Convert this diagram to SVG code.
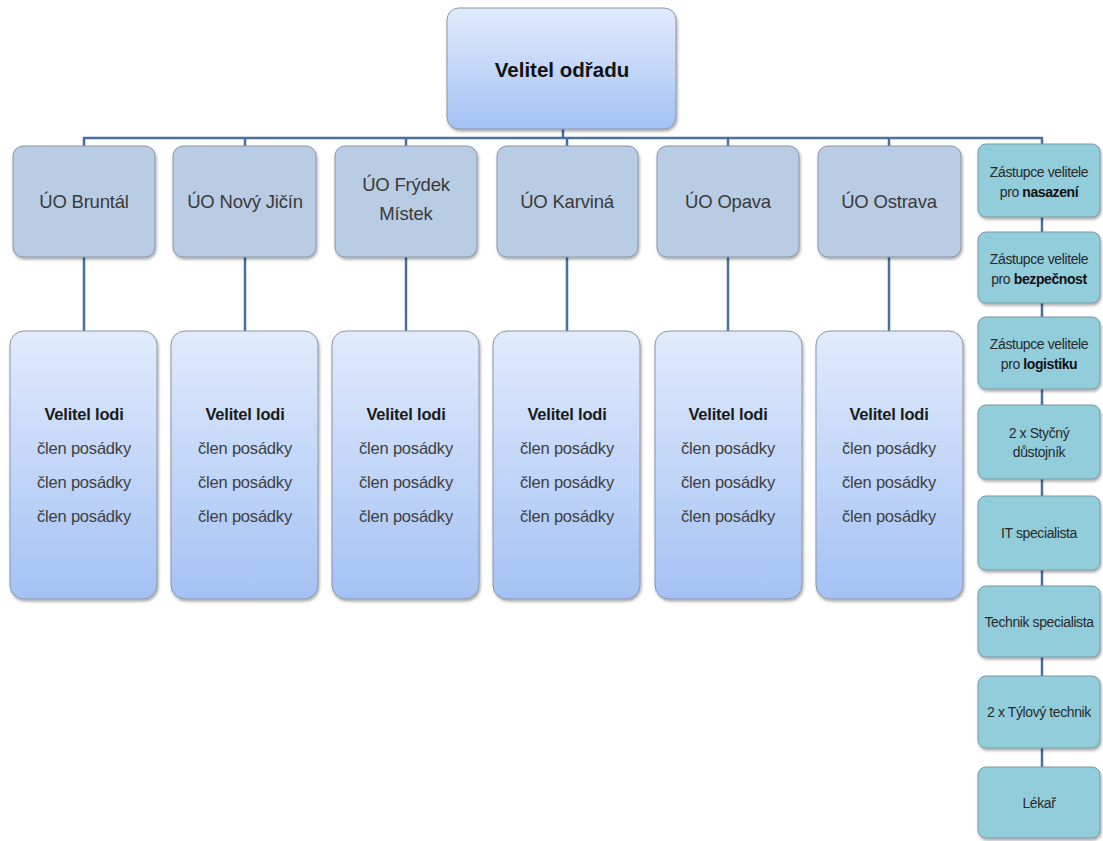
<svg xmlns="http://www.w3.org/2000/svg" width="1103" height="841" viewBox="0 0 1103 841">
<defs>
<linearGradient id="gBlue" x1="0" y1="0" x2="0" y2="1">
<stop offset="0" stop-color="#e1ebfc"/>
<stop offset="1" stop-color="#a4c2f4"/>
</linearGradient>
<filter id="sh" x="-10%" y="-10%" width="125%" height="125%">
<feDropShadow dx="1" dy="2" stdDeviation="1.5" flood-color="#000" flood-opacity="0.35"/>
</filter>
<style>
.top{fill:url(#gBlue);stroke:#8a96a8;stroke-width:1;filter:url(#sh)}
.unit{fill:#b8cce4;stroke:#8a96a8;stroke-width:1;filter:url(#sh)}
.crew{fill:url(#gBlue);stroke:#8a96a8;stroke-width:1;filter:url(#sh)}
.staff{fill:#92cddc;stroke:#7a9aa4;stroke-width:1;filter:url(#sh)}
.conn{stroke:#4a6fa0;stroke-width:2.5;fill:none}
text{font-family:"Liberation Sans",Arial,sans-serif;text-anchor:middle}
.tt{font-size:20.5px;font-weight:bold;fill:#111}
.ut{font-size:18.5px;fill:#3a3a3a;letter-spacing:-0.2px}
.cb{font-size:16.5px;font-weight:bold;fill:#1a1a1a;letter-spacing:-0.2px}
.cm{font-size:16.5px;fill:#404040;letter-spacing:-0.2px}
.st{font-size:14px;fill:#2a2a2a;letter-spacing:-0.4px}
.st .b{font-weight:bold;fill:#111}
</style>
</defs>
<rect width="1103" height="841" fill="#fff"/>
<g id="connectors">
<path class="conn" d="M563 129 V138"/>
<path class="conn" d="M84 146 V138 H1042 V144"/>
<path class="conn" d="M245 138 V146 M406 138 V146 M567 138 V146 M728 138 V146 M889 138 V146"/>
<path class="conn" d="M84 257 V331 M245 257 V331 M406 257 V331 M567 257 V331 M728 257 V331 M889 257 V331"/>
<path class="conn" d="M1042 217 V232 M1042 303 V317 M1042 389 V405 M1042 479 V496 M1042 570 V586 M1042 657 V676 M1042 748 V767"/>
</g>
<g id="velitel-odradu"><rect class="top" x="447" y="8" width="229" height="121" rx="12"/><text class="tt" x="562" y="77">Velitel odřadu</text></g>

<g id="uo-bruntal"><rect class="unit" x="13" y="146" width="142" height="111" rx="10"/><text class="ut" x="84" y="208">ÚO Bruntál</text></g>
<g id="uo-novy-jicin"><rect class="unit" x="173" y="146" width="143" height="111" rx="10"/><text class="ut" x="245" y="208">ÚO Nový Jičín</text></g>
<g id="uo-frydek-mistek"><rect class="unit" x="335" y="146" width="142" height="111" rx="10"/><text class="ut" x="406" y="191">ÚO Frýdek</text><text class="ut" x="406" y="220">Místek</text></g>
<g id="uo-karvina"><rect class="unit" x="497" y="146" width="141" height="111" rx="10"/><text class="ut" x="567" y="208">ÚO Karviná</text></g>
<g id="uo-opava"><rect class="unit" x="657" y="146" width="142" height="111" rx="10"/><text class="ut" x="728" y="208">ÚO Opava</text></g>
<g id="uo-ostrava"><rect class="unit" x="818" y="146" width="143" height="111" rx="10"/><text class="ut" x="889" y="208">ÚO Ostrava</text></g>

<g id="crew-1"><rect class="crew" x="10" y="331" width="147" height="268" rx="14"/><text class="cb" x="84" y="420">Velitel lodi</text><text class="cm" x="84" y="454">člen posádky</text><text class="cm" x="84" y="488">člen posádky</text><text class="cm" x="84" y="522">člen posádky</text></g>
<g id="crew-2"><rect class="crew" x="171" y="331" width="147" height="268" rx="14"/><text class="cb" x="245" y="420">Velitel lodi</text><text class="cm" x="245" y="454">člen posádky</text><text class="cm" x="245" y="488">člen posádky</text><text class="cm" x="245" y="522">člen posádky</text></g>
<g id="crew-3"><rect class="crew" x="332" y="331" width="147" height="268" rx="14"/><text class="cb" x="406" y="420">Velitel lodi</text><text class="cm" x="406" y="454">člen posádky</text><text class="cm" x="406" y="488">člen posádky</text><text class="cm" x="406" y="522">člen posádky</text></g>
<g id="crew-4"><rect class="crew" x="493" y="331" width="147" height="268" rx="14"/><text class="cb" x="567" y="420">Velitel lodi</text><text class="cm" x="567" y="454">člen posádky</text><text class="cm" x="567" y="488">člen posádky</text><text class="cm" x="567" y="522">člen posádky</text></g>
<g id="crew-5"><rect class="crew" x="655" y="331" width="147" height="268" rx="14"/><text class="cb" x="728" y="420">Velitel lodi</text><text class="cm" x="728" y="454">člen posádky</text><text class="cm" x="728" y="488">člen posádky</text><text class="cm" x="728" y="522">člen posádky</text></g>
<g id="crew-6"><rect class="crew" x="816" y="331" width="147" height="268" rx="14"/><text class="cb" x="889" y="420">Velitel lodi</text><text class="cm" x="889" y="454">člen posádky</text><text class="cm" x="889" y="488">člen posádky</text><text class="cm" x="889" y="522">člen posádky</text></g>

<g id="staff-nasazeni"><rect class="staff" x="978" y="144" width="122" height="73" rx="8"/><text class="st" x="1039" y="177">Zástupce velitele</text><text class="st" x="1039" y="197">pro <tspan class="b">nasazení</tspan></text></g>
<g id="staff-bezpecnost"><rect class="staff" x="978" y="232" width="122" height="71" rx="8"/><text class="st" x="1039" y="264">Zástupce velitele</text><text class="st" x="1039" y="284">pro <tspan class="b">bezpečnost</tspan></text></g>
<g id="staff-logistika"><rect class="staff" x="978" y="317" width="122" height="72" rx="8"/><text class="st" x="1039" y="349">Zástupce velitele</text><text class="st" x="1039" y="369">pro <tspan class="b">logistiku</tspan></text></g>
<g id="staff-styc"><rect class="staff" x="978" y="405" width="122" height="74" rx="8"/><text class="st" x="1039" y="438">2 x Styčný</text><text class="st" x="1039" y="457">důstojník</text></g>
<g id="staff-it"><rect class="staff" x="978" y="496" width="122" height="74" rx="8"/><text class="st" x="1039" y="538">IT specialista</text></g>
<g id="staff-technik"><rect class="staff" x="978" y="586" width="122" height="71" rx="8"/><text class="st" x="1039" y="627">Technik specialista</text></g>
<g id="staff-tylovy"><rect class="staff" x="978" y="676" width="122" height="72" rx="8"/><text class="st" x="1039" y="717">2 x Týlový technik</text></g>
<g id="staff-lekar"><rect class="staff" x="978" y="767" width="122" height="71" rx="8"/><text class="st" x="1039" y="808">Lékař</text></g>
</svg>
